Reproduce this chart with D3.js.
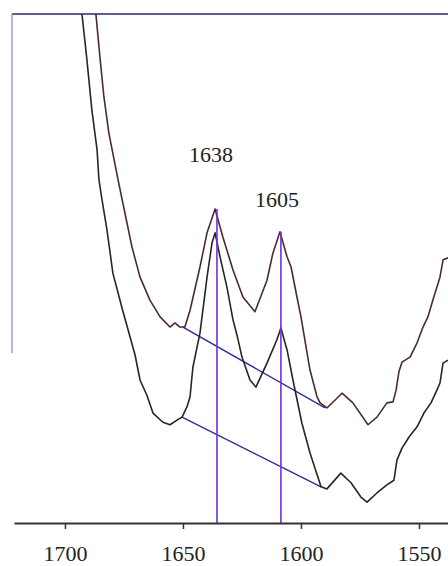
<!DOCTYPE html>
<html>
<head>
<meta charset="utf-8">
<script src="https://cdn.jsdelivr.net/npm/d3@7"></script>
<style>
  html, body { margin: 0; padding: 0; background: #fff; }
  svg { display: block; }
  .curve    { fill: none; stroke-width: 1.6; stroke-linejoin: round; }
  .upper    { stroke: #4a2c2c; }
  .lower    { stroke: #262626; }
  .baseline { stroke: #2e2e9c; stroke-width: 1.5; }
  .peakline { stroke: #6b33d6; stroke-width: 1.6; }
</style>
</head>
<body>
<div id="chart"></div>
<script>
// wavenumber (cm-1) / absorbance (a.u.)
const upperWn = [1686.9,1685.2,1683.5,1681.4,1677.5,1674.6,1671.6,1668.2,1664.0,1659.7,1655.5,1653.4,1651.3,1649.2,1647.0,1642.8,1639.8,1636.4,1633.1,1628.8,1624.6,1619.5,1614.4,1611.9,1608.9,1605.9,1604.2,1601.7,1600.0,1596.2,1593.2,1591.9,1589.0,1582.6,1578.0,1571.6,1567.8,1563.6,1561.0,1559.7,1558.5,1557.2,1553.8,1550.8,1548.3,1546.2,1544.1,1541.1,1539.8,1537.7];
const upperAbs = [1.000,0.916,0.837,0.766,0.674,0.609,0.542,0.483,0.438,0.405,0.385,0.393,0.385,0.385,0.418,0.503,0.570,0.617,0.562,0.497,0.444,0.415,0.477,0.530,0.572,0.523,0.503,0.444,0.405,0.301,0.248,0.236,0.226,0.255,0.236,0.193,0.208,0.236,0.238,0.261,0.297,0.316,0.326,0.354,0.385,0.405,0.438,0.483,0.517,0.521];

const lowerWn = [1692.8,1690.7,1688.6,1686.4,1685.6,1684.3,1682.2,1679.7,1675.8,1670.3,1668.2,1665.3,1662.7,1658.5,1655.5,1652.5,1650.4,1648.3,1647.0,1645.8,1642.8,1639.8,1637.7,1636.4,1634.3,1631.4,1628.8,1627.1,1625.0,1621.6,1619.1,1614.4,1610.2,1608.5,1605.9,1603.4,1599.6,1596.2,1591.5,1589.0,1583.1,1578.8,1574.6,1572.0,1567.8,1563.6,1560.6,1559.3,1557.2,1554.2,1550.8,1547.9,1544.9,1542.4,1541.1,1539.8,1537.7];
const lowerAbs = [1.000,0.910,0.811,0.733,0.674,0.635,0.576,0.491,0.422,0.330,0.281,0.251,0.216,0.198,0.193,0.202,0.208,0.228,0.248,0.306,0.373,0.483,0.550,0.570,0.523,0.464,0.399,0.369,0.326,0.281,0.267,0.314,0.360,0.383,0.340,0.281,0.196,0.138,0.071,0.067,0.098,0.079,0.051,0.041,0.059,0.075,0.084,0.124,0.147,0.169,0.189,0.216,0.236,0.261,0.275,0.314,0.320];

// baselines drawn under the amide bands
const baseWn    = [1650.0, 1589.8];
const baseUpper = [0.385, 0.226];
const baseWn2   = [1650.4, 1591.5];
const baseLower = [0.208, 0.071];

// peak markers
const peakWn    = [1635.6, 1608.5];
const peakTop   = [0.617, 0.572];
const peakText  = ["1638", "1605"];

const xTicks = [1700, 1650, 1600, 1550];

const width = 448, height = 566;
const serif = "'Liberation Serif', 'Times New Roman', serif";

const x = d3.scaleLinear().domain([1721.6, 1537.7]).range([14, 448]);
const y = d3.scaleLinear().domain([0, 1]).range([523, 14]);

const svg = d3.select("#chart").append("svg")
  .attr("width", width).attr("height", height);

svg.append("defs").append("clipPath").attr("id", "plot")
  .append("rect").attr("x", 12).attr("y", 14).attr("width", 436).attr("height", 509);

// frame: top line and short left edge
svg.append("line")
  .attr("x1", 12).attr("x2", 448).attr("y1", 14).attr("y2", 14)
  .attr("stroke", "#5f5f8f").attr("stroke-width", 2);
svg.append("line")
  .attr("x1", 12).attr("x2", 12).attr("y1", 14).attr("y2", 353)
  .attr("stroke", "#9c9ce0").attr("stroke-width", 1.5);

const line = d3.line().x(d => x(d[0])).y(d => y(d[1]));
const g = svg.append("g").attr("clip-path", "url(#plot)");

// baselines
g.append("path").datum(d3.zip(baseWn, baseUpper)).attr("class", "baseline").attr("d", line);
g.append("path").datum(d3.zip(baseWn2, baseLower)).attr("class", "baseline").attr("d", line);

// spectra
g.append("path").datum(d3.zip(upperWn, upperAbs)).attr("class", "curve upper").attr("d", line);
g.append("path").datum(d3.zip(lowerWn, lowerAbs)).attr("class", "curve lower").attr("d", line);

// peak lines
g.selectAll(".peakline")
  .data(d3.zip(peakWn, peakTop))
  .join("line")
    .attr("class", "peakline")
    .attr("x1", d => x(d[0])).attr("x2", d => x(d[0]))
    .attr("y1", d => y(d[1])).attr("y2", y(0));

// peak labels
const labelShift = [[-6, -47], [-4, -25]];
svg.selectAll(".peaklabel")
  .data(d3.zip(peakWn, peakTop, peakText))
  .join("text")
    .attr("class", "peaklabel")
    .attr("x", (d, i) => x(d[0]) + labelShift[i][0])
    .attr("y", (d, i) => y(d[1]) + labelShift[i][1])
    .attr("text-anchor", "middle")
    .attr("font-family", serif)
    .attr("font-size", 22)
    .attr("fill", "#222")
    .text(d => d[2]);

// x axis
const ax = svg.append("g")
  .attr("transform", `translate(0,${y(0)})`)
  .call(d3.axisBottom(x).tickValues(xTicks).tickSize(6).tickSizeOuter(0).tickFormat(d3.format("d")));
ax.attr("font-family", serif);
ax.select(".domain").attr("stroke", "#333").attr("stroke-width", 2);
ax.selectAll(".tick line").attr("stroke", "#333").attr("stroke-width", 1.5);
ax.selectAll(".tick text")
  .attr("y", 38).attr("dy", null)
  .attr("font-family", serif)
  .attr("font-size", 22)
  .attr("fill", "#222");
</script>
</body>
</html>
